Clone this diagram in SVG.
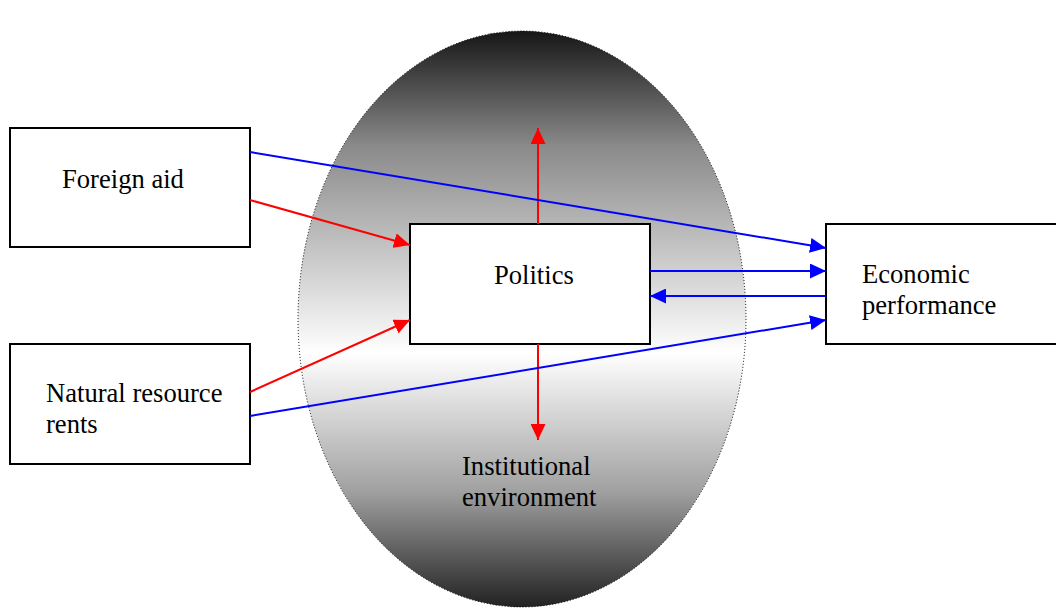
<svg xmlns="http://www.w3.org/2000/svg" width="1056" height="610" viewBox="0 0 1056 610">
<style>
.box{fill:#fff;stroke:#000;stroke-width:2}
.t{font-family:"Liberation Serif",serif;font-size:26.6px;fill:#000}
.r{stroke:#ff0000;stroke-width:2;fill:none}
.b{stroke:#0000ff;stroke-width:2;fill:none}
</style>
<defs>
<linearGradient id="g" x1="0" y1="0" x2="0" y2="1">
<stop offset="0" stop-color="#161616"/>
<stop offset="0.2" stop-color="#8a8a8a"/>
<stop offset="0.56" stop-color="#ffffff"/>
<stop offset="0.8" stop-color="#a0a0a0"/>
<stop offset="1" stop-color="#222222"/>
</linearGradient>
<marker id="ar" viewBox="0 0 16 15" refX="16" refY="7.5" markerWidth="16" markerHeight="15" markerUnits="userSpaceOnUse" orient="auto"><path d="M0,0L16,7.5L0,15z" fill="#ff0000"/></marker>
<marker id="ab" viewBox="0 0 16 15" refX="16" refY="7.5" markerWidth="16" markerHeight="15" markerUnits="userSpaceOnUse" orient="auto"><path d="M0,0L16,7.5L0,15z" fill="#0000ff"/></marker>
</defs>
<g id="institutional-environment">
<ellipse cx="522" cy="319" rx="224" ry="288" fill="url(#g)" stroke="#000" stroke-width="1" stroke-dasharray="1,2"/>
<text class="t" x="462" y="475">Institutional</text>
<text class="t" x="462" y="506">environment</text>
</g>
<g id="foreign-aid">
<rect class="box" x="10" y="128" width="240" height="119"/>
<text class="t" x="62" y="188">Foreign aid</text>
</g>
<g id="natural-resource-rents">
<rect class="box" x="10" y="344" width="240" height="120"/>
<text class="t" x="46" y="402">Natural resource</text>
<text class="t" x="46" y="433">rents</text>
</g>
<g id="politics">
<rect class="box" x="410" y="224" width="240" height="120"/>
<text class="t" x="494" y="284">Politics</text>
</g>
<g id="economic-performance">
<rect class="box" x="826" y="224" width="240" height="120"/>
<text class="t" x="862" y="283">Economic</text>
<text class="t" x="862" y="314">performance</text>
</g>
<g id="connectors">
<line class="r" x1="250" y1="200" x2="410" y2="245" marker-end="url(#ar)"/>
<line class="r" x1="250" y1="392" x2="410" y2="320" marker-end="url(#ar)"/>
<line class="r" x1="538" y1="224" x2="538" y2="128" marker-end="url(#ar)"/>
<line class="r" x1="538" y1="344" x2="538" y2="440" marker-end="url(#ar)"/>
<line class="b" x1="250" y1="152" x2="826" y2="248" marker-end="url(#ab)"/>
<line class="b" x1="650" y1="271" x2="826" y2="271" marker-end="url(#ab)"/>
<line class="b" x1="826" y1="296" x2="650" y2="296" marker-end="url(#ab)"/>
<line class="b" x1="250" y1="416" x2="826" y2="320" marker-end="url(#ab)"/>
</g>
</svg>
